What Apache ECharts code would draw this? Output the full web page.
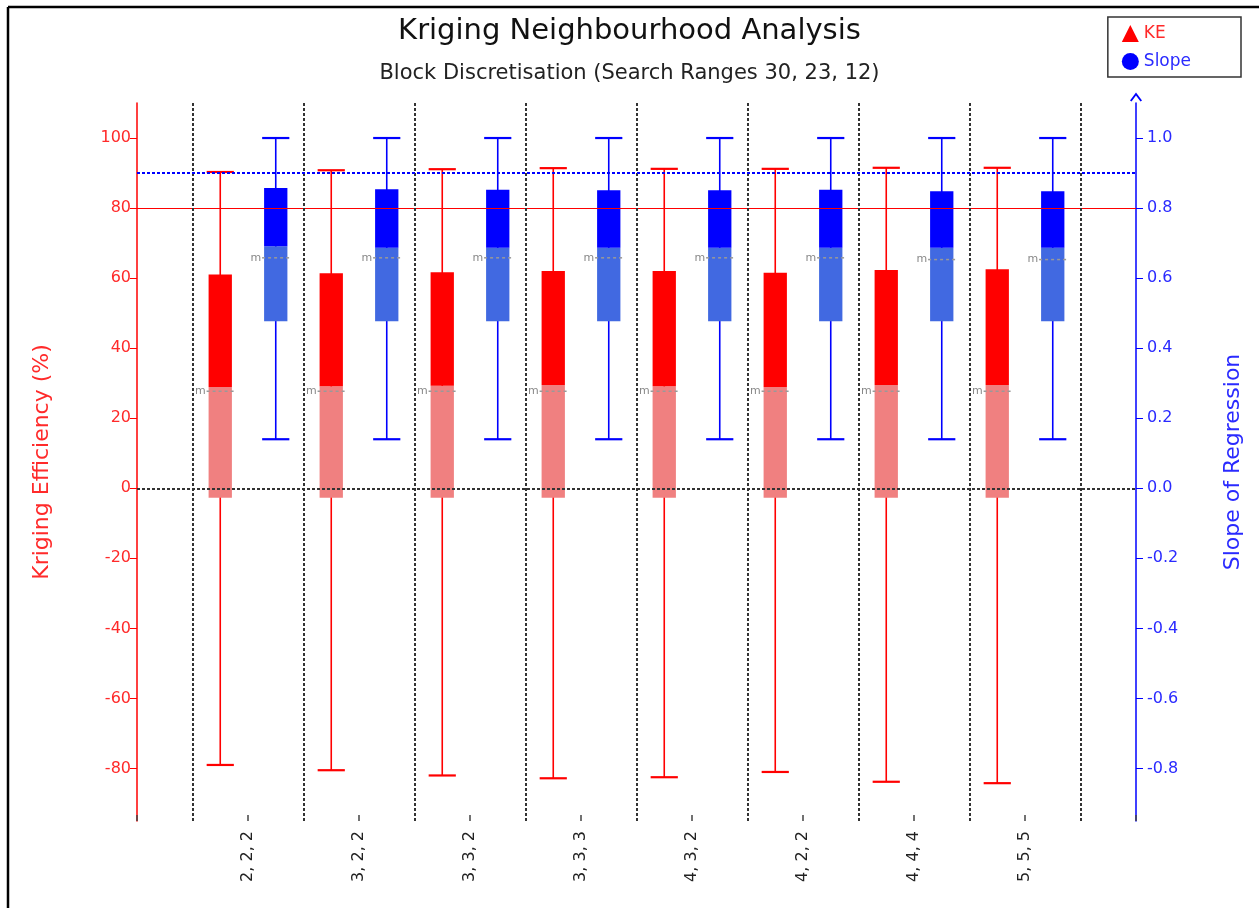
<!DOCTYPE html>
<html>
<head>
<meta charset="utf-8">
<script src="https://cdn.jsdelivr.net/npm/echarts@6/dist/echarts.min.js"></script>
<style>
html,body{margin:0;padding:0;background:#fff;}
#chart{width:1259px;height:908px;}
</style>
</head>
<body>
<div id="chart"></div>
<script>
const categories = ['2, 2, 2','3, 2, 2','3, 3, 2','3, 3, 3','4, 3, 2','4, 2, 2','4, 4, 4','5, 5, 5'];

const keMin    = [-79.0,-80.5,-82.0,-82.8,-82.5,-81.0,-83.8,-84.2];
const keQ1     = [-2.7,-2.7,-2.7,-2.7,-2.7,-2.7,-2.7,-2.7];
const keMedian = [28.9,29.1,29.3,29.5,29.1,28.9,29.5,29.5];
const keQ3     = [61.0,61.4,61.7,62.0,62.0,61.5,62.3,62.5];
const keMax    = [90.3,90.8,91.1,91.4,91.2,91.2,91.5,91.5];
const keMean   = [27.7,27.7,27.7,27.7,27.7,27.7,27.7,27.7];

const slopeMin    = [0.14,0.14,0.14,0.14,0.14,0.14,0.14,0.14];
const slopeQ1     = [0.477,0.477,0.477,0.477,0.477,0.477,0.477,0.477];
const slopeMedian = [0.691,0.687,0.687,0.687,0.687,0.687,0.687,0.687];
const slopeQ3     = [0.857,0.854,0.852,0.851,0.851,0.852,0.848,0.848];
const slopeMax    = [1.0,1.0,1.0,1.0,1.0,1.0,1.0,1.0];
const slopeMean   = [0.658,0.658,0.658,0.658,0.658,0.658,0.653,0.653];

const keTicks    = [-80,-60,-40,-20,0,20,40,60,80,100];
const slopeTicks = [-0.8,-0.6,-0.4,-0.2,0,0.2,0.4,0.6,0.8,1.0];

const keTarget = 80;
const slopeTarget = 0.9;

const FONT = 'DejaVu Sans';
const RED = '#ff0000', RED_LIGHT = '#f08080', RED_TXT = '#ff2a2a';
const BLUE = '#0000ff', BLUE_LIGHT = '#4169e1', BLUE_TXT = '#2a2aff';

function makeRender(offset, stroke, dark, light) {
  return function (params, api) {
    const x = api.value(0) + offset;
    const pMin = api.coord([x, api.value(1)]);
    const pQ1 = api.coord([x, api.value(2)]);
    const pMed = api.coord([x, api.value(3)]);
    const pQ3 = api.coord([x, api.value(4)]);
    const pMax = api.coord([x, api.value(5)]);
    const pMean = api.coord([x, api.value(6)]);
    const bw = api.size([0.21, 0])[0];
    const cw = api.size([0.245, 0])[0];
    const cx = pMin[0];
    const l = cx - bw / 2;
    return {
      type: 'group',
      children: [
        {type:'line', shape:{x1:cx, y1:pMin[1], x2:cx, y2:pMax[1]}, style:{stroke:stroke, lineWidth:1.6}},
        {type:'line', shape:{x1:cx-cw/2, y1:pMin[1], x2:cx+cw/2, y2:pMin[1]}, style:{stroke:stroke, lineWidth:2.2}},
        {type:'line', shape:{x1:cx-cw/2, y1:pMax[1], x2:cx+cw/2, y2:pMax[1]}, style:{stroke:stroke, lineWidth:2.2}},
        {type:'rect', shape:{x:l, y:pMed[1], width:bw, height:pQ1[1]-pMed[1]}, style:{fill:light}},
        {type:'rect', shape:{x:l, y:pQ3[1], width:bw, height:pMed[1]-pQ3[1]}, style:{fill:dark}},
        {type:'line', shape:{x1:l-2, y1:pMean[1], x2:l+bw+3, y2:pMean[1]}, style:{stroke:'#999', lineWidth:1.5, lineDash:[3,3]}},
        {type:'text', x:l-3, y:pMean[1], style:{text:'m', fill:'#888', fontSize:11, fontFamily:FONT, align:'right', verticalAlign:'middle'}}
      ]
    };
  };
}

const keData = categories.map((c,i)=>[i+1, keMin[i], keQ1[i], keMedian[i], keQ3[i], keMax[i], keMean[i]]);
const slopeData = categories.map((c,i)=>[i+1, slopeMin[i], slopeQ1[i], slopeMedian[i], slopeQ3[i], slopeMax[i], slopeMean[i]]);
const dividers = [];
for (let i = 0; i <= categories.length; i++) dividers.push(i + 0.5);

const chart = echarts.init(document.getElementById('chart'), null, {renderer:'canvas'});
chart.setOption({
  backgroundColor:'#fff',
  animation:false,
  textStyle:{fontFamily:FONT},
  title:{
    text:'Kriging Neighbourhood Analysis',
    subtext:'Block Discretisation (Search Ranges 30, 23, 12)',
    left:'center', top:12, itemGap:17,
    textStyle:{fontSize:29, fontWeight:'normal', color:'#111', fontFamily:FONT},
    subtextStyle:{fontSize:21, color:'#222', fontFamily:FONT}
  },
  legend:{
    orient:'vertical', right:18, top:17,
    borderColor:'#333', borderWidth:1.5, padding:[8,50,7,14],
    itemWidth:17, itemHeight:17, itemGap:11,
    textStyle:{fontSize:17, fontFamily:FONT},
    data:[
      {name:'KE', icon:'triangle', itemStyle:{color:RED}, textStyle:{color:RED_TXT}},
      {name:'Slope', icon:'circle', itemStyle:{color:BLUE}, textStyle:{color:BLUE_TXT}}
    ]
  },
  grid:{left:137, right:123, top:103, bottom:87, containLabel:false},
  xAxis:{
    type:'value', min:0, max:categories.length+1,
    axisLine:{show:false, onZero:false}, splitLine:{show:false},
    axisTick:{show:true, inside:true, length:6, customValues:categories.map((c,i)=>i).concat([categories.length, categories.length+1]), lineStyle:{color:'#444', width:1.5}},
    axisLabel:{show:true, customValues:categories.map((c,i)=>i+1), rotate:90, margin:10, fontSize:16, color:'#222', fontFamily:FONT,
      formatter:function(v){ return categories[Math.round(v)-1] || ''; }}
  },
  yAxis:[
    {
      type:'value', min:-95, max:110, position:'left',
      name:'Kriging Efficiency (%)', nameLocation:'middle', nameGap:84, nameRotate:90,
      nameTextStyle:{color:RED_TXT, fontSize:22, fontFamily:FONT},
      axisLine:{show:true, onZero:false, lineStyle:{color:RED, width:1.5}},
      axisTick:{show:true, length:7, customValues:keTicks, lineStyle:{color:RED}},
      axisLabel:{customValues:keTicks, color:RED_TXT, fontSize:16, margin:6, fontFamily:FONT},
      splitLine:{show:false}
    },
    {
      type:'value', min:-0.95, max:1.1, position:'right',
      name:'Slope of Regression', nameLocation:'middle', nameGap:86, nameRotate:90,
      nameTextStyle:{color:BLUE_TXT, fontSize:22, fontFamily:FONT},
      axisLine:{show:true, onZero:false, symbol:['none','path://M0,8 L6,0 L12,8 L10.5,9 L6,3 L1.5,9 Z'], symbolSize:[12,9], symbolOffset:[0,6], lineStyle:{color:BLUE, width:1.5}},
      axisTick:{show:true, length:7, customValues:slopeTicks, lineStyle:{color:BLUE}},
      axisLabel:{customValues:slopeTicks, color:BLUE_TXT, fontSize:16, margin:11, fontFamily:FONT,
        formatter:function(v){ return v.toFixed(1); }},
      splitLine:{show:false}
    }
  ],
  series:[
    {
      name:'guides', type:'line', data:[], z:1, yAxisIndex:0, silent:true,
      markLine:{
        silent:true, symbol:['none','none'], label:{show:false}, animation:false,
        data:[
          {yAxis:keTarget, lineStyle:{color:RED, width:1.2, type:'solid'}},
          {yAxis:0, lineStyle:{color:'#333', width:2, type:[3,2]}}
        ].concat(dividers.map(d=>({xAxis:d, lineStyle:{color:'#333', width:2, type:[3,2]}})))
      }
    },
    {
      name:'guides2', type:'line', data:[], z:1, yAxisIndex:1, silent:true,
      markLine:{
        silent:true, symbol:['none','none'], label:{show:false}, animation:false,
        data:[{yAxis:slopeTarget, lineStyle:{color:BLUE, width:2, type:[3,2]}}]
      }
    },
    {
      name:'KE', type:'custom', yAxisIndex:0, z:3,
      itemStyle:{color:RED},
      encode:{x:0, y:[1,5]},
      renderItem:makeRender(-0.25, RED, RED, RED_LIGHT),
      data:keData
    },
    {
      name:'Slope', type:'custom', yAxisIndex:1, z:3,
      itemStyle:{color:BLUE},
      encode:{x:0, y:[1,5]},
      renderItem:makeRender(0.25, BLUE, BLUE, BLUE_LIGHT),
      data:slopeData
    }
  ],
  graphic:[
    {type:'line', shape:{x1:8, y1:7, x2:1259, y2:7}, style:{stroke:'#000', lineWidth:2.5}, silent:true},
    {type:'line', shape:{x1:8, y1:7, x2:8, y2:908}, style:{stroke:'#000', lineWidth:2.5}, silent:true}
  ]
});
</script>
</body>
</html>
